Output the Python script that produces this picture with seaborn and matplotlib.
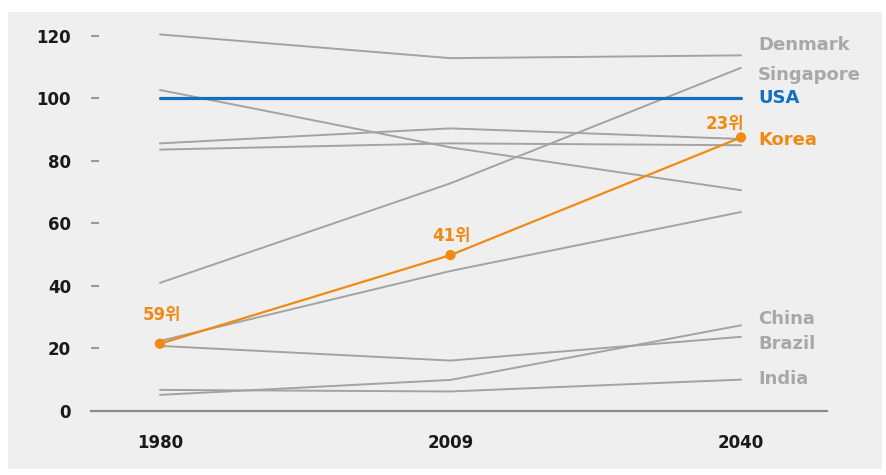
import matplotlib
matplotlib.use("Agg")
import matplotlib.pyplot as plt
import seaborn as sns
import pandas as pd
from matplotlib.patches import Rectangle

# ---- data ----
years = ["1980", "2009", "2040"]
denmark = [120.5, 112.9, 113.8]
singapore = [40.9, 72.8, 109.8]
usa = [100.0, 100.0, 100.0]
korea = [21.4, 49.8, 87.5]
brazil = [20.7, 16.0, 23.6]
china = [5.0, 9.8, 27.3]
india = [6.6, 6.1, 9.9]
other_a = [102.7, 84.3, 70.6]
other_b = [85.6, 90.4, 87.0]
other_c = [83.6, 85.6, 85.0]
other_d = [22.3, 44.7, 63.6]
korea_rank = ["59위", "41위", "23위"]
yticks = [0, 20, 40, 60, 80, 100, 120]

series = {
    "Other A": other_a, "Other B": other_b, "Other C": other_c, "Other D": other_d,
    "Denmark": denmark, "Singapore": singapore, "Brazil": brazil,
    "China": china, "India": india, "USA": usa, "Korea": korea,
}
labelled = ["Denmark", "Singapore", "USA", "Korea", "China", "Brazil", "India"]

rows = []
for name, vals in series.items():
    for i, (yr, v) in enumerate(zip(years, vals)):
        rows.append({"country": name, "year": yr, "pos": i, "value": v})
df = pd.DataFrame(rows)

# ---- styles ----
GRAY = "#a3a3a3"
BLUE = "#1470bf"
ORANGE = "#f08a14"
LABEL_GRAY = "#a8a8a8"
colors = {n: GRAY for n in series}
colors["USA"] = BLUE
colors["Korea"] = ORANGE
widths = {n: 1.4 for n in series}
widths["USA"] = 2.3
widths["Korea"] = 1.6
label_colors = {n: LABEL_GRAY for n in labelled}
label_colors["USA"] = BLUE
label_colors["Korea"] = ORANGE
# label vertical placement (layout, in axis units)
label_y = {"Denmark": 117.0, "Singapore": 107.4, "USA": 100.1, "Korea": 86.6,
           "China": 29.3, "Brazil": 21.3, "India": 10.1}
rank_offsets = [(1.5, 21), (0.5, 13.5), (-11.5, 10)]

sns.set_theme(style="white")
plt.rcParams["font.family"] = ["DejaVu Sans", "Noto Sans CJK KR"]

fig = plt.figure(figsize=(8.87, 4.75), dpi=100)
fig.patch.set_facecolor("white")
bg = Rectangle((8 / 887, 6 / 475), (882 - 8) / 887, (469 - 12) / 475,
               transform=fig.transFigure, facecolor="#efefef",
               edgecolor="none", zorder=-10)
fig.add_artist(bg)
ax = fig.add_axes([91 / 887, (475 - 410.5) / 475, (827 - 91) / 887, (410.5 - 20.4) / 475])
ax.set_facecolor("none")
ax.set_zorder(1)

for name in series:
    sub = df[df["country"] == name]
    sns.lineplot(data=sub, x="pos", y="value", ax=ax, color=colors[name],
                 linewidth=widths[name], sort=False, legend=False,
                 zorder=4 if name in ("USA", "Korea") else 2, clip_on=False)

# Korea markers
kd = df[df["country"] == "Korea"]
sns.scatterplot(data=kd, x="pos", y="value", ax=ax, color=ORANGE, s=55,
                edgecolor="none", zorder=5, legend=False, clip_on=False)
for (i, row), lab, off in zip(kd.reset_index(drop=True).iterrows(), korea_rank, rank_offsets):
    ax.annotate(lab, (row["pos"], row["value"]), xytext=off, textcoords="offset points",
                ha="center", va="center", color=ORANGE, fontsize=12, fontweight="bold")

# right-side labels
last = len(years) - 1
for name in labelled:
    ax.annotate(name, (last, label_y[name]), xytext=(12.2, 0), textcoords="offset points",
                ha="left", va="center", color=label_colors[name], fontsize=13,
                fontweight="bold", annotation_clip=False)

ax.set_xlim(-0.2375, 2.296)
ax.set_ylim(0, 125)
ax.set_xticks(range(len(years)))
ax.set_xticklabels(years)
ax.set_yticks(yticks)
ax.set_yticklabels([str(t) for t in yticks])
ax.set_xlabel("")
ax.set_ylabel("")
for s in ("left", "top", "right"):
    ax.spines[s].set_visible(False)
ax.spines["bottom"].set_color("#8c8c8c")
ax.spines["bottom"].set_linewidth(1.6)
ax.spines["bottom"].set_zorder(6)
ax.tick_params(axis="x", length=0, pad=17, labelsize=12, labelcolor="#1a1a1a")
ax.tick_params(axis="y", direction="in", length=6, width=1.5, color="#9a9a9a",
               pad=14.4, labelsize=12, labelcolor="#1a1a1a", left=True)
for t in ax.get_xticklabels() + ax.get_yticklabels():
    t.set_fontweight("bold")
ax.grid(False)

fig.savefig("out.png", dpi=100, facecolor="white")
